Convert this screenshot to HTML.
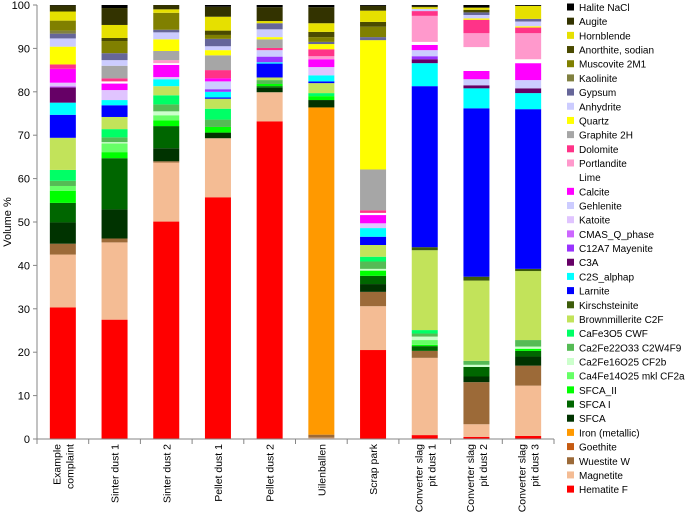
<!DOCTYPE html>
<html><head><meta charset="utf-8"><style>
html,body{margin:0;padding:0;background:#fff;}
svg{display:block;font-family:"Liberation Sans",Arial,sans-serif;}
</style></head><body>
<svg id="chart" width="685" height="513" viewBox="0 0 685 513"></svg>
<script>
const categories = [["Example","complaint"],["Sinter dust 1"],["Sinter dust 2"],["Pellet dust 1"],["Pellet dust 2"],["Uilenballen"],["Scrap park"],["Converter slag","pit dust 1"],["Converter slag","pit dust 2"],["Converter slag","pit dust 3"]];
const yTicks = [0,10,20,30,40,50,60,70,80,90,100];
const hematite   = [30.3,27.5,50.1,55.7,73.2,0,20.5,0.9,0.5,0.7];
const magnetite  = [12.2,17.8,13.6,13.6,6.7,0.3,10.1,17.8,2.9,11.6];
const wuestite   = [2.5,0.9,0.3,0,0,0.7,3.3,1.6,9.7,4.6];
const goethite   = [0,0,0,0,0,0,0,0,0,0];
const ironMet    = [0,0,0,0,0,75.4,0,0,0,0];
const sfca       = [4.9,6.7,3.0,1.3,1.0,1.7,1.8,0,1.3,2.1];
const sfcaI      = [4.5,11.8,5.1,0,0.4,0,1.9,1.1,2.2,1.3];
const sfcaII     = [2.8,1.4,1.3,1.3,0.5,0.9,1.2,0.3,0,0.5];
const cf2a       = [1.1,2.0,1.2,0,0,0,0,1.1,0,0];
const cf2b       = [0,0.3,0.9,0,0,0,0.4,0.8,0.5,0.5];
const c2w4f9     = [1.2,1.1,1.6,1.7,0.9,0,1.7,0.7,0.9,1.5];
const cwf        = [2.5,1.9,2.1,2.5,0,0.7,1.1,0.8,0,0];
const brownm     = [7.4,2.8,2.1,2.3,0.6,2.3,2.7,18.4,18.5,15.9];
const kirsch     = [0,0,0,0,0,0,0,0.7,0.9,0.5];
const larnite    = [5.3,2.7,0,0.3,3.2,0.4,1.9,37.1,38.8,36.8];
const c2s        = [2.8,1.2,1.6,1.3,0.3,1.4,2.0,5.3,4.6,3.7];
const c3a        = [3.5,0,0,0,0,0,0,0.9,0.7,1.1];
const c12a7      = [0,0,0,0.6,1.3,0,0,0.7,0,0];
const cmas       = [0.3,0,0,0,0,0,0,0,0,0];
const katoite    = [0.8,2.3,0.5,0,0,1.9,1.1,0,0,0];
const gehlenite  = [0,0,0,1.8,1.5,0,0,1.4,1.4,1.9];
const calcite    = [3.2,1.5,2.8,0.7,0,1.8,1.9,1.2,1.9,3.9];
const lime       = [0,0.5,0.4,0,0,0,0.5,0.7,5.5,0.9];
const portlandite= [0,0,0.7,0,0,0.7,0,6.0,3.2,6.0];
const dolomite   = [1.0,0.7,0,1.9,0.5,1.6,0.6,1.1,3.1,1.3];
const graphite   = [0,2.9,2.1,3.4,2.0,0,9.4,0,0,0];
const quartz     = [4.1,0,2.7,1.2,0.5,1.2,29.8,0,0.3,0.3];
const anhydrite  = [1.9,1.3,1.6,0.9,1.8,0,0,0.5,0.8,1.1];
const gypsum     = [1.1,1.6,0.6,1.7,1.4,0.5,0.7,0,0.6,0.6];
const kaolinite  = [0.7,0,0,0,0,0,0,0,0,0];
const muscovite  = [2.3,2.8,3.9,0.9,0,1.1,2.4,0,0,0];
const anorthite  = [0,0.7,0,1.0,0,1.2,1.1,0,0.6,0];
const hornblende = [2.1,3.0,0.8,3.2,0.5,2.0,2.6,0.4,0.5,3.0];
const augite     = [1.4,3.9,1.0,2.3,3.2,3.7,1.1,0.3,0,0];
const halite     = [0.1,0.7,0,0.4,0.5,0.5,0.2,0.2,0.6,0.2];

const seriesNames = ["Hematite F","Magnetite","Wuestite W","Goethite","Iron (metallic)","SFCA","SFCA I","SFCA_II","Ca4Fe14O25 mkl CF2a","Ca2Fe16O25 CF2b","Ca2Fe22O33 C2W4F9","CaFe3O5  CWF","Brownmillerite C2F","Kirschsteinite","Larnite","C2S_alphap","C3A","C12A7 Mayenite","CMAS_Q_phase","Katoite","Gehlenite","Calcite","Lime","Portlandite","Dolomite","Graphite 2H","Quartz","Anhydrite","Gypsum","Kaolinite","Muscovite 2M1","Anorthite, sodian","Hornblende","Augite","Halite NaCl"];
const seriesValues = [hematite,magnetite,wuestite,goethite,ironMet,sfca,sfcaI,sfcaII,cf2a,cf2b,c2w4f9,cwf,brownm,kirsch,larnite,c2s,c3a,c12a7,cmas,katoite,gehlenite,calcite,lime,portlandite,dolomite,graphite,quartz,anhydrite,gypsum,kaolinite,muscovite,anorthite,hornblende,augite,halite];
const seriesColors = ["#ff0000","#f4bc94","#9c6a38","#c55a11","#ff9900","#003300","#006600","#00ff00","#66ff66","#ccffcc","#55bb55","#00ff66","#c2e35a","#3d5c0a","#0000ff","#00ffff","#660066","#9933ff","#cc66ff","#e0c4ff","#ccccff","#ff00ff","#ffffff","#ff99cc","#ff3388","#a6a6a6","#ffff00","#ccccff","#666699","#808040","#808000","#4a4a00","#e6e000","#333300","#000000"];

const NS="http://www.w3.org/2000/svg";
const svg=document.getElementById('chart');
const X0=37, X1=554, Y0=439, Y1=5;
const band=(X1-X0)/categories.length, barW=26;
function yScale(v){return Y0-(v/100)*(Y0-Y1);}
function xCenter(i){return X0+band*(i+0.5);}
function mk(tag,attrs){const e=document.createElementNS(NS,tag);for(const k in attrs)e.setAttribute(k,attrs[k]);svg.appendChild(e);return e;}

for(let i=0;i<categories.length;i++){
  let cum=0;
  for(let s=0;s<seriesValues.length;s++){
    const v=seriesValues[s][i];
    if(!v){continue;}
    const r=mk('rect',{x:xCenter(i)-barW/2,y:yScale(cum+v),width:barW,height:yScale(cum)-yScale(cum+v),fill:seriesColors[s]});
    
    
    cum+=v;
  }
}
const ya=mk('line',{x1:X0,y1:Y1,x2:X0,y2:Y0,stroke:'#868686','stroke-width':1});


const xa=mk('line',{x1:X0,y1:Y0,x2:X1,y2:Y0,stroke:'#868686','stroke-width':1});


yTicks.forEach(t=>{
  const y=yScale(t);
  const tk=mk('line',{x1:X0-4,y1:y,x2:X0,y2:y,stroke:'#868686'});
  
  
  const tl=mk('text',{x:X0-7,y:y+4,'text-anchor':'end','font-size':11,fill:'#000'});
  tl.textContent=t;
  
  
});
for(let k=0;k<=categories.length;k++){
  const x=X0+band*k;
  const tk=mk('line',{x1:x,y1:Y0,x2:x,y2:Y0+5,stroke:'#868686'});
  
  
}
categories.forEach((lines,i)=>{
  const cx=xCenter(i);
  lines.forEach((ln,j)=>{
    const off=(j-(lines.length-1)/2)*13+4;
    const x=cx+off, y=444;
    const t=mk('text',{x:x,y:y,'text-anchor':'end','font-size':10.5,fill:'#000',transform:`rotate(-90 ${x} ${y})`});
    t.textContent=ln;
    
    
  });
});
const yt=mk('text',{x:11,y:222,'text-anchor':'middle','font-size':11,fill:'#000',transform:'rotate(-90 11 222)'});
yt.textContent='Volume %';


const n=seriesNames.length;
for(let k=0;k<n;k++){
  const s=n-1-k;
  const cy=7+k*14.18;
  const sw=mk('rect',{x:567,y:cy-3.5,width:7,height:7,fill:seriesColors[s]});
  
  
  const lt=mk('text',{x:579,y:cy+4,'font-size':10,fill:'#000'});
  lt.textContent=seriesNames[s];
  
  
}
</script>
</body></html>
